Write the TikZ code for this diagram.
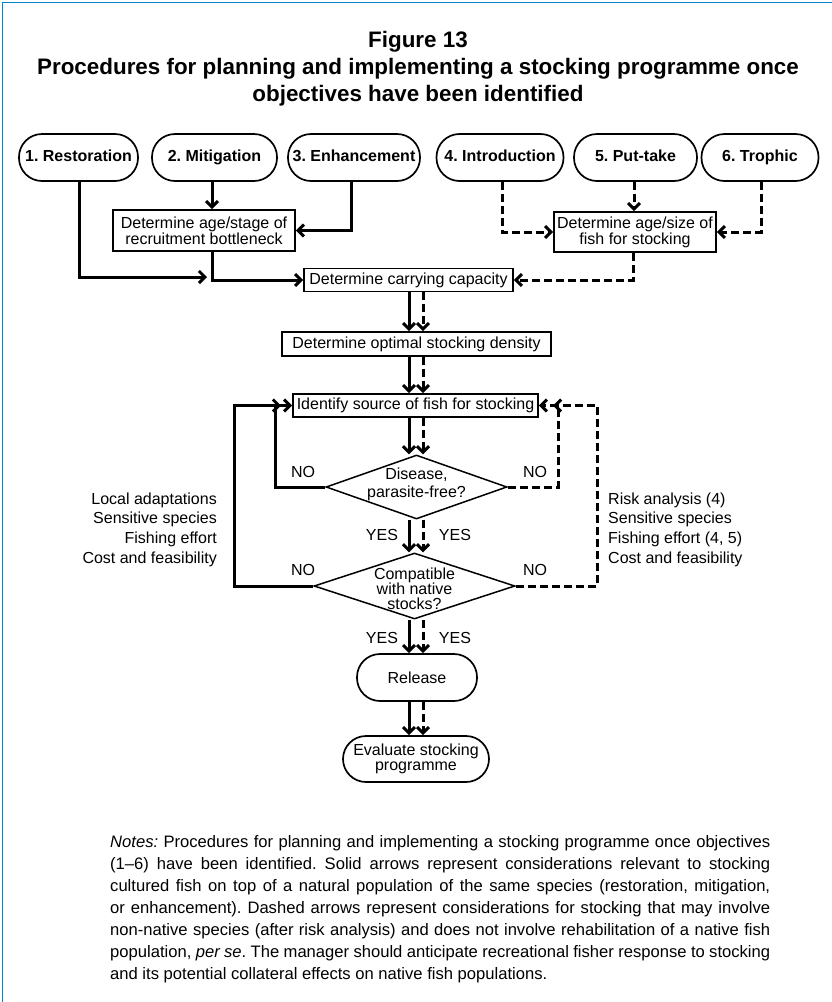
\documentclass[tikz,border=0pt]{standalone}
\usepackage{fontspec}
\setmainfont{Liberation Sans}
\usetikzlibrary{arrows.meta,shapes.geometric}
\definecolor{framecol}{RGB}{0,133,202}
\frenchspacing
\tikzset{
  goal/.style={draw,line width=1.7pt,rounded corners=23pt,minimum height=47pt,inner sep=0pt,
    text height=11.5pt,text depth=3.4pt,font=\fontsize{16}{18}\selectfont\bfseries},
  stepbox/.style={draw,line width=1.7pt,inner sep=0pt,align=center,
    font=\fontsize{16}{16}\selectfont},
  endbox/.style={draw,line width=1.7pt,rounded corners=23pt,inner sep=0pt,align=center,
    font=\fontsize{16}{15.5}\selectfont},
  decision/.style={draw,diamond,line width=1.5pt,inner sep=0pt},
  solidarrow/.style={line width=3pt,-{Straight Barb[length=6pt,width=12pt]}},
  dasharrow/.style={solidarrow,dash pattern=on 8pt off 4pt},
  answer/.style={font=\fontsize{16}{18}\selectfont,inner sep=0pt},
  sidetext/.style={font=\fontsize{16}{19.6}\selectfont,inner sep=0pt},
}
\begin{document}
\begin{tikzpicture}[x=1pt,y=-1pt]
\useasboundingbox (0,0) rectangle (832,1002);
\fill[white] (0,0) rectangle (832,1002);
\draw[framecol,line width=1.5pt] (2.5,1002) -- (2.5,2.5) -- (832,2.5);

% heading
\node[font=\fontsize{22.4}{27}\selectfont\bfseries,align=center,inner sep=0pt] (title) at (418,69)
  {Figure 13\\Procedures for planning and implementing a stocking programme once\\objectives have been identified};

% stocking objectives
\node[goal,minimum width=119pt] (n1) at (78.5,157.5) {1. Restoration};
\node[goal,minimum width=125pt] (n2) at (214.5,157.5) {2. Mitigation};
\node[goal,minimum width=132pt] (n3) at (354,157.5) {3. Enhancement};
\node[goal,minimum width=127pt] (n4) at (500,157.5) {4. Introduction};
\node[goal,minimum width=123pt] (n5) at (635.5,157.5) {5. Put-take};
\node[goal,minimum width=117pt] (n6) at (760,157.5) {6. Trophic};

% planning steps
\node[stepbox,minimum width=182pt,minimum height=41pt] (bn) at (204,230.5)
  {Determine age/stage of\\recruitment bottleneck};
\node[stepbox,minimum width=162pt,minimum height=40pt] (as) at (635,232)
  {Determine age/size of\\fish for stocking};
\node[stepbox,minimum width=209pt,minimum height=23pt] (cap) at (408.5,280)
  {Determine carrying capacity};
\node[stepbox,minimum width=269pt,minimum height=24pt] (opt) at (416.5,344)
  {Determine optimal stocking density};
\node[stepbox,minimum width=245pt,minimum height=23pt] (id) at (415.5,405.5)
  {Identify source of fish for stocking};

% decisions
\node[decision,minimum width=181pt,minimum height=64pt,
  label={[font=\fontsize{16}{18}\selectfont,align=center,yshift=3pt]center:Disease,\\parasite-free?}] (d1) at (416.5,487) {};
\node[decision,minimum width=201pt,minimum height=66pt,
  label={[font=\fontsize{16}{15}\selectfont,align=center,yshift=-3pt]center:Compatible\\with native\\stocks?}] (d2) at (414.5,586) {};

% outcome
\node[endbox,minimum width=120pt,minimum height=47pt] (rel) at (417,677.5) {Release};
\node[endbox,minimum width=146pt,minimum height=46pt] (ev) at (416,759)
  {Evaluate stocking\\programme};

% lanes of the connectors
\coordinate (xs) at (409,0);
\coordinate (xd) at (423,0);
\coordinate (c79) at (79,0);
\coordinate (c212) at (212,0);
\coordinate (c351) at (351,0);
\coordinate (c502) at (502,0);
\coordinate (c634) at (634,0);
\coordinate (c761) at (761,0);
\coordinate (c633) at (633,0);
\coordinate (j1) at (207,277);
\coordinate (lin) at (275,0);
\coordinate (lout) at (234,0);
\coordinate (lend) at (281,0);
\coordinate (rin) at (558,0);
\coordinate (rout) at (597,0);
\coordinate (rend) at (553,0);

% solid paths: objectives 1-3
\draw[solidarrow] (n1.south -| c79) |- (j1);
\draw[solidarrow] (n2.south -| c212) -- (bn.north -| c212);
\draw[solidarrow] (n3.south -| c351) |- (bn.east);
\draw[solidarrow] (bn.south -| c212) |- (cap.west);

% dashed paths: objectives 4-6
\draw[dasharrow] (n4.south -| c502) |- (as.west);
\draw[dasharrow] (n5.south -| c634) -- (as.north -| c634);
\draw[dasharrow] (n6.south -| c761) |- (as.east);
\draw[dasharrow] (as.south -| c633) |- (cap.east);

% main sequence, paired arrows
\foreach \a/\b in {cap/opt,opt/id,id/d1,d1/d2,d2/rel,rel/ev}{
  \draw[solidarrow] (\a.south -| xs) -- (\b.north -| xs);
  \draw[dasharrow] (\a.south -| xd) -- (\b.north -| xd);
}

% rejection loops
\draw[solidarrow] (d1.west) -| (id.west -| lin) -- (id.west);
\draw[solidarrow] (d2.west) -| (id.west -| lout) -- (id.west -| lend);
\draw[dasharrow] (d1.east) -| (id.east -| rin) -- (id.east);
\draw[dasharrow] (d2.east) -| (id.east -| rout) -- (id.east -| rend);

% answers
\node[answer] (no1) at (303,472) {NO};
\node[answer] (no2) at (303,570) {NO};
\node[answer] (no3) at (535,472) {NO};
\node[answer] (no4) at (535,570) {NO};
\node[answer] (yes1) at (382,535) {YES};
\node[answer] (yes2) at (455,535) {YES};
\node[answer] (yes3) at (382,638) {YES};
\node[answer] (yes4) at (455,638) {YES};

% considerations
\node[sidetext,anchor=east,align=right] (lside) at (217,529.5)
  {Local adaptations\\Sensitive species\\Fishing effort\\Cost and feasibility};
\node[sidetext,anchor=west,align=left] (rside) at (608,529.5)
  {Risk analysis (4)\\Sensitive species\\Fishing effort (4, 5)\\Cost and feasibility};

% notes
\node[anchor=north west,inner sep=0pt,align=left,font=\fontsize{16.6}{22}\selectfont] (notes) at (110,835)
  {\makebox[660pt][s]{\textit{Notes:} Procedures for planning and implementing a stocking programme once objectives}\\
   \makebox[660pt][s]{(1–6) have been identified. Solid arrows represent considerations relevant to stocking}\\
   \makebox[660pt][s]{cultured fish on top of a natural population of the same species (restoration, mitigation,}\\
   \makebox[660pt][s]{or enhancement). Dashed arrows represent considerations for stocking that may involve}\\
   \makebox[660pt][s]{non-native species (after risk analysis) and does not involve rehabilitation of a native fish}\\
   \makebox[660pt][s]{population, \textit{per se}. The manager should anticipate recreational fisher response to stocking}\\
   and its potential collateral effects on native fish populations.};
\end{tikzpicture}
\end{document}
